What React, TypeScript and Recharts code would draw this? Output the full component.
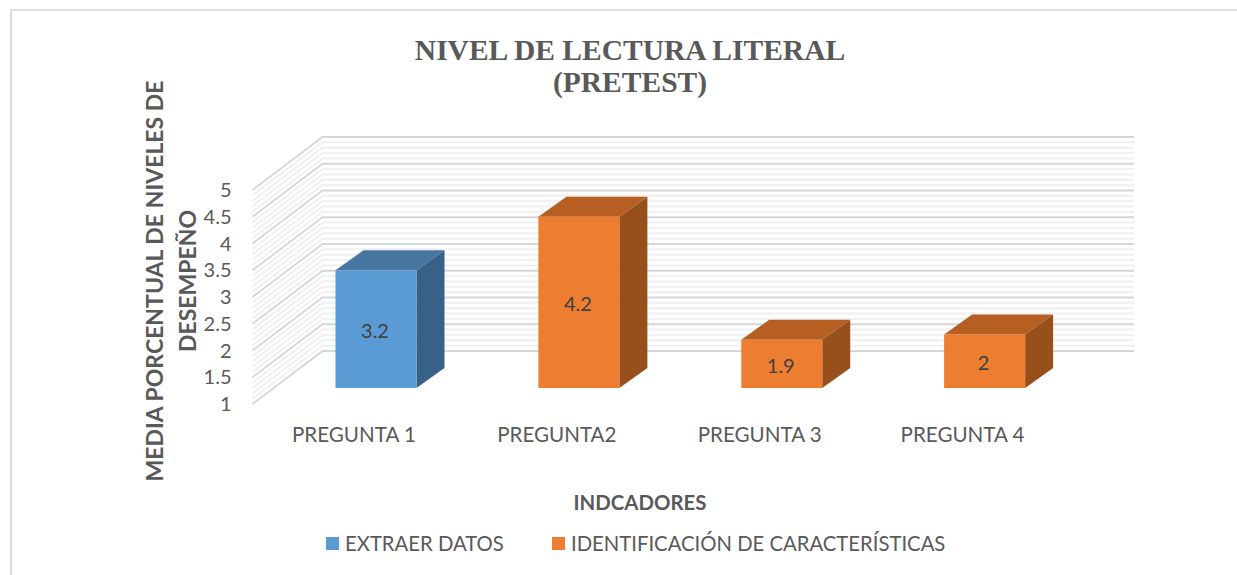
import { Bar, BarChart, CartesianGrid, LabelList, Legend, XAxis, YAxis } from "recharts";

const categories = ["PREGUNTA 1", "PREGUNTA2", "PREGUNTA 3", "PREGUNTA 4"];
const extraerDatos = [3.2, null, null, null];
const identificacion = [null, 4.2, 1.9, 2];
const yTicks = [1, 1.5, 2, 2.5, 3, 3.5, 4, 4.5, 5];
const minorSteps = [0.1, 0.2, 0.3, 0.4];

const data = categories.map((name, i) => ({
  name,
  extraer: extraerDatos[i],
  identificacion: identificacion[i],
}));

const minorGrid = yTicks.slice(0, -1).flatMap((t) => minorSteps.map((s) => Number((t + s).toFixed(1))));

const FONT = "Lato, 'Open Sans', sans-serif";
const TEXT = "#595959";

// wall depth of the fake 3D box, and how far bars sit inside the floor
const WALL_DX = 70;
const WALL_DY = 53;
const BAR_DX = 22;
const BAR_DY = 16;
const BOX_DX = 28;
const BOX_DY = 20;

function wallLine(stroke: string, width: number) {
  return (props: any) => {
    const { x1, x2, y1 } = props;
    const backY = y1 - WALL_DY;
    return (
      <polyline
        key={props.key ?? y1}
        points={`${x1},${y1} ${x1 + WALL_DX},${backY} ${x2 + WALL_DX},${backY}`}
        fill="none"
        stroke={stroke}
        strokeWidth={width}
      />
    );
  };
}

function box3d(front: string, top: string, side: string) {
  return (props: any) => {
    const { x, y, width, height } = props;
    if (!(height > 0)) return <g />;
    const l = x + BAR_DX;
    const r = l + width;
    const t = y - BAR_DY;
    const b = t + height;
    return (
      <g>
        <polygon points={`${l},${t} ${r},${t} ${r + BOX_DX},${t - BOX_DY} ${l + BOX_DX},${t - BOX_DY}`} fill={top} />
        <polygon points={`${r},${t} ${r + BOX_DX},${t - BOX_DY} ${r + BOX_DX},${b - BOX_DY} ${r},${b}`} fill={side} />
        <rect x={l} y={t} width={width} height={height} fill={front} />
      </g>
    );
  };
}

function LegendBox() {
  const item = (color: string, label: string, left: number) => (
    <div style={{ position: "absolute", left, top: 0, display: "flex", alignItems: "center" }}>
      <span style={{ width: 13, height: 13, background: color, marginRight: 6, display: "inline-block" }} />
      <span>{label}</span>
    </div>
  );
  return (
    <div style={{ position: "relative", height: 26, fontFamily: FONT, fontSize: 20.3, color: TEXT, whiteSpace: "nowrap" }}>
      {item("#5b9bd5", "EXTRAER DATOS", 326)}
      {item("#ed7d31", "IDENTIFICACIÓN DE CARACTERÍSTICAS", 552)}
    </div>
  );
}

export default function App() {
  return (
    <div style={{ position: "absolute", left: 0, top: 0, width: 1237, height: 575, overflow: "hidden", background: "#fff" }}>
      <div
        style={{
          position: "absolute",
          left: 10,
          top: 9,
          width: 1240,
          height: 600,
          borderLeft: "2px solid #dedede",
          borderTop: "2px solid #dedede",
        }}
      />
      <div style={{ position: "absolute", left: 0, top: 0 }}>
        <BarChart
          width={1237}
          height={575}
          data={data}
          barSize={81}
          barGap={-81}
          margin={{ top: 190, right: 173, bottom: 141, left: 222.5 }}
        >
          <CartesianGrid vertical={false} horizontalValues={minorGrid} horizontal={wallLine("#f0f0f0", 2) as any} />
          <CartesianGrid vertical={false} horizontalValues={yTicks} horizontal={wallLine("#d6d6d6", 1.8) as any} />
          <XAxis
            dataKey="name"
            height={30}
            axisLine={false}
            tickLine={false}
            tickSize={0}
            tickMargin={23}
            tick={{ fontSize: 20.6, fill: TEXT, fontFamily: FONT }}
          />
          <YAxis
            domain={[1, 5]}
            ticks={yTicks}
            width={30}
            axisLine={false}
            tickLine={false}
            tickSize={0}
            tickMargin={21}
            interval={0}
            tick={{ fontSize: 20, fill: TEXT, fontFamily: FONT }}
          />
          <Bar dataKey="extraer" name="EXTRAER DATOS" isAnimationActive={false} shape={box3d("#5b9bd5", "#4675a0", "#376187")}>
            <LabelList dataKey="extraer" position="center" dx={BAR_DX - 1} dy={-BAR_DY + 1.5} fontSize={20} fill="#404040" fontFamily={FONT} />
          </Bar>
          <Bar dataKey="identificacion" name="IDENTIFICACIÓN DE CARACTERÍSTICAS" isAnimationActive={false} shape={box3d("#ed7d31", "#b75f22", "#974f1b")}>
            <LabelList dataKey="identificacion" position="center" dx={BAR_DX - 1} dy={-BAR_DY + 1.5} fontSize={20} fill="#404040" fontFamily={FONT} />
          </Bar>
          <Legend
            layout="horizontal"
            verticalAlign="middle"
            align="center"
            content={<LegendBox />}
            wrapperStyle={{ position: "absolute", left: 0, top: 531, width: 1237, margin: 0 }}
          />
          <text x={630} y={60} textAnchor="middle" fontFamily="'Liberation Serif', serif" fontWeight="bold" fontSize={29.5} fill={TEXT}>
            NIVEL DE LECTURA LITERAL
          </text>
          <text x={630} y={92} textAnchor="middle" fontFamily="'Liberation Serif', serif" fontWeight="bold" fontSize={29.5} fill={TEXT}>
            (PRETEST)
          </text>
          <text transform="translate(163,281) rotate(-90)" textAnchor="middle" fontFamily={FONT} fontWeight="bold" fontSize={23} fill={TEXT}>
            MEDIA PORCENTUAL DE NIVELES DE
          </text>
          <text transform="translate(196,281) rotate(-90)" textAnchor="middle" fontFamily={FONT} fontWeight="bold" fontSize={23} fill={TEXT}>
            DESEMPEÑO
          </text>
          <text x={640} y={510} textAnchor="middle" fontFamily={FONT} fontWeight="bold" fontSize={20.4} fill={TEXT}>
            INDCADORES
          </text>
        </BarChart>
      </div>
    </div>
  );
}
